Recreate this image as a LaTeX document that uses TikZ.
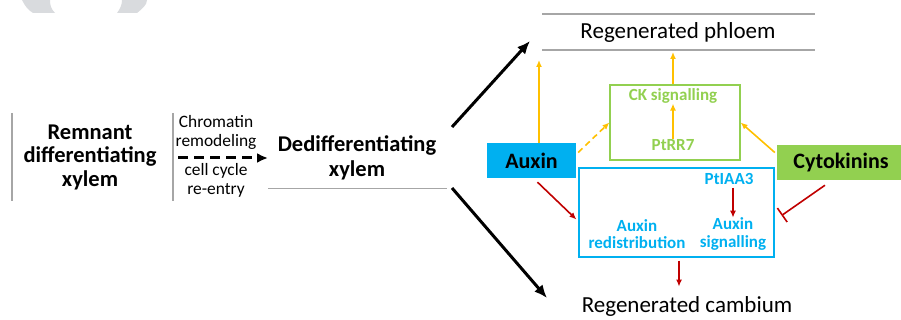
\documentclass[tikz,border=0pt]{standalone}
\usepackage{fontspec}
\setmainfont{Carlito}
\usepackage{xcolor}
\usepackage{tikz}
\usetikzlibrary{arrows.meta,positioning,calc}

\definecolor{auxinblue}{HTML}{00B0F0}
\definecolor{ckgreen}{HTML}{92D050}
\definecolor{hormoneorange}{HTML}{FFC000}
\definecolor{repressred}{HTML}{C00000}
\definecolor{rulegray}{HTML}{A6A6A6}
\definecolor{ghostgray}{HTML}{D9DBDE}

\begin{document}
\begin{tikzpicture}[
			x=1pt, y=-1pt,
			>=Latex,
			fate/.style={
				-{Latex[length=13pt,width=11pt]},
				line width=3pt
			},
			reprogram/.style={
				-{Latex[length=11pt,width=10pt]},
				line width=3pt,
				dash pattern=on 10pt off 6pt
			},
			promote/.style={
				-{Latex[length=7pt,width=6pt]},
				line width=1.6pt,
				hormoneorange
			},
			repress/.style={
				-{Latex[length=7pt,width=6pt]},
				line width=1.6pt,
				repressred
			},
			inhibit/.style={
				-{Bar[width=17pt,line width=1.6pt]},
				line width=1.6pt,
				repressred
			},
			rule/.style={
				rulegray,
				line width=1.2pt
			},
			title/.style={
				align=center,
				inner sep=0pt,
				font=\bfseries\fontsize{22.5}{23.5}\selectfont
			},
			tissue/.style={
				align=center,
				inner sep=0pt,
				font=\fontsize{23}{26}\selectfont
			},
			steptext/.style={
				align=center,
				inner sep=0pt,
				font=\fontsize{17.4}{19}\selectfont
			},
			hormone/.style={
				align=center,
				inner sep=0pt,
				minimum height=35pt,
				font=\bfseries\fontsize{22}{24}\selectfont
			},
			pathway/.style={
				draw,
				line width=1.2pt,
				inner sep=0pt
			},
			factor/.style={
				align=center,
				inner sep=0pt,
				font=\bfseries\fontsize{17}{17.5}\selectfont
			}
			]
			
			\useasboundingbox (0,0) rectangle (901,320);
			
			%=====================================================================
			% Faded panel letter
			%=====================================================================
			
			\fill[ghostgray]
			(22,0) .. controls (25,6) and (28,10) .. (33,13)
			-- (55,13) .. controls (51,9) and (50,5) .. (50,0) -- cycle;
			\fill[ghostgray]
			(122,0) .. controls (122,5) and (120,9) .. (117,13)
			-- (137,13) .. controls (142,9) and (147,5) .. (147,0) -- cycle;
			
			%=====================================================================
			% Xylem reprogramming
			%=====================================================================
			
			\coordinate (remnant-bar) at (12,113);
			\coordinate (step-bar) at (173,113);
			\draw[rule] (remnant-bar) -- ++(0,88);
			\draw[rule] (step-bar) -- ++(0,88);
			
			\node[title] (remnant) at (90,157)
			{Remnant\\differentiating\\xylem};
			
			\node[steptext] (chromatin) at (216,132)
			{Chromatin\\remodeling};
			
			\node[steptext] (cellcycle) at (216,180)
			{cell cycle\\re-entry};
			
			\node[title, font=\bfseries\fontsize{22.5}{25}\selectfont] (dediff)
			at (357,158) {Dedifferentiating\\xylem};
			
			\coordinate (step-start) at (178,158);
			\coordinate (step-end) at (268,158);
			\draw[reprogram] (step-start) -- (step-end);
			
			\coordinate (dediff-sw) at (268,188);
			\coordinate (dediff-se) at (447,188);
			\draw[rule, line width=0.9pt] (dediff-sw) -- (dediff-se);
			
			%=====================================================================
			% Regenerated tissues
			%=====================================================================
			
			\node[tissue] (phloem) at (678,32) {Regenerated phloem};
			\node[tissue] (cambium) at (687,306) {Regenerated cambium};
			
			\coordinate (phloem-nw) at (542,14);
			\coordinate (phloem-sw) at (542,50);
			\draw[rule] (phloem-nw) -- ++(273,0);
			\draw[rule] (phloem-sw) -- ++(273,0);
			
			\coordinate (fork-up) at (452,127);
			\coordinate (fork-down) at (452,188);
			\coordinate (phloem-in) at (530,41);
			\coordinate (cambium-in) at (547,298);
			\draw[fate] (fork-up) -- (phloem-in);
			\draw[fate] (fork-down) -- (cambium-in);
			
			%=====================================================================
			% Hormonal control
			%=====================================================================
			
			\node[hormone, fill=auxinblue, minimum width=89pt] (auxin)
			at (531.5,160.5) {Auxin};
			
			\node[hormone, fill=ckgreen, minimum width=128pt] (cyto)
			at (841,162.5) {Cytokinins};
			
			\node[pathway, draw=ckgreen, minimum width=130pt, minimum height=75pt]
			(ckbox) at (675,122.5) {};
			
			\node[factor, text=ckgreen] (cksig) at (673,96) {CK signalling};
			\node[factor, text=ckgreen] (ptrr) at (673,145) {PtRR7};
			
			\node[pathway, draw=auxinblue, minimum width=195pt, minimum height=89pt]
			(auxbox) at (676.5,212.5) {};
			
			\node[factor, text=auxinblue] (ptiaa) at (729,179) {PtIAA3};
			\node[factor, text=auxinblue] (auxsig) at (733,234)
			{Auxin\\signalling};
			\node[factor, text=auxinblue] (auxred) at (637,234)
			{Auxin\\redistribution};
			
			\coordinate (auxin-up) at (539,60);
			\coordinate (ck-up) at (673,52);
			
			\draw[promote] (auxin.north -| auxin-up) -- (auxin-up);
			\draw[promote] (ckbox.north -| ck-up) -- (ck-up);
			\draw[promote] (ptrr.north) -- (cksig.south);
			\draw[promote, dashed, dash pattern=on 6pt off 4pt]
			($(auxin.east)+(2,-8)$) -- (ckbox.west);
			\draw[promote] ($(cyto.west)+(-2,-10)$) -- (ckbox.east);
			
			\draw[repress] ($(auxin.south)+(6,4)$) -- ($(auxbox.west)+(-2,7)$);
			\draw[repress] (auxsig.north |- ptiaa.south) ++(0,3) -- (auxsig.north);
			\draw[repress] ($(auxbox.south)+(2.5,3)$) -- ($(auxbox.south)+(2.5,29)$);
			\draw[inhibit] ($(cyto.south)+(-16,5)$) -- ($(auxbox.east)+(7,3)$);
			
		\end{tikzpicture}
\end{document}
